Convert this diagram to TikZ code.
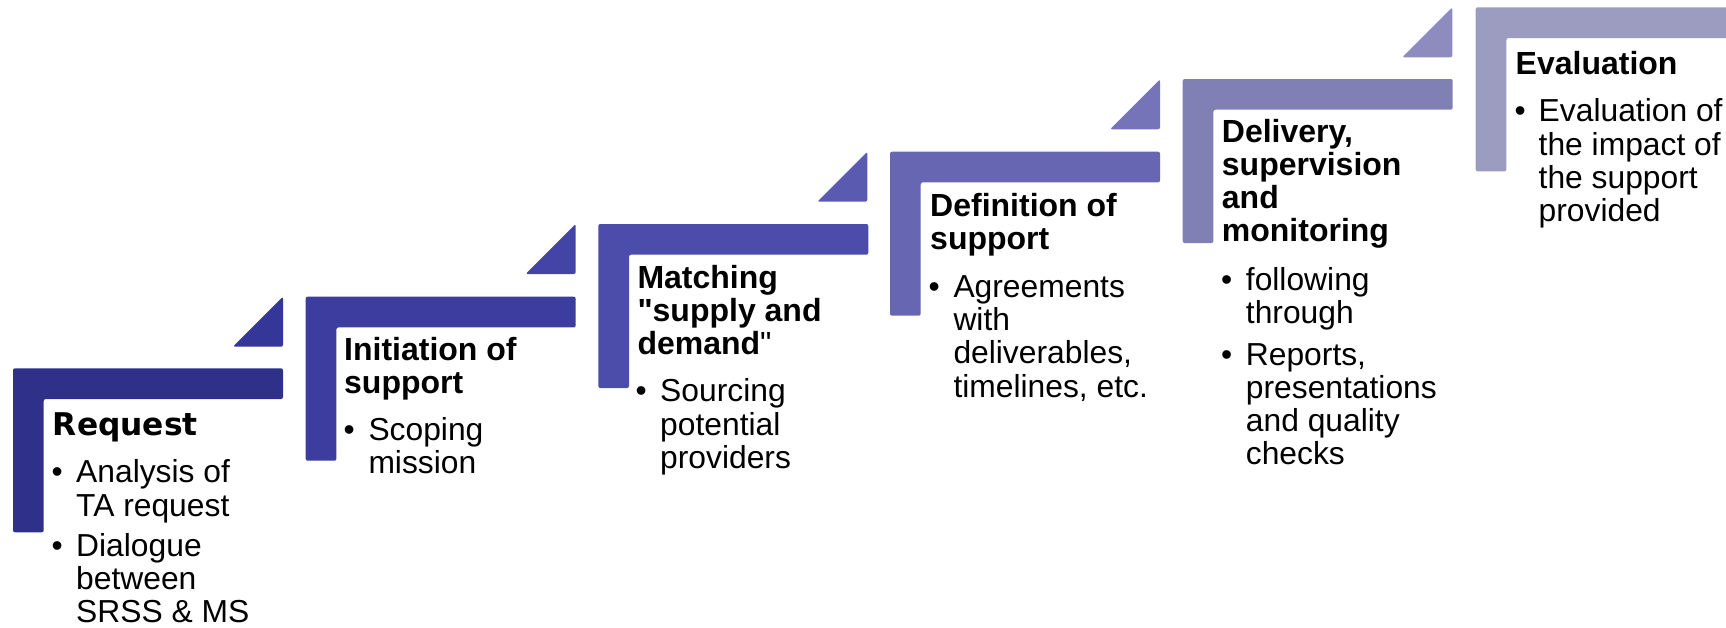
\documentclass[tikz,border=0pt]{standalone}
\usepackage{fontspec}
\newfontfamily\arialfont{Liberation Sans}
\newfontfamily\verdanalike{DejaVu Sans}
\definecolor{L1}{RGB}{46,48,138}
\definecolor{T1}{RGB}{53,55,152}
\definecolor{L2}{RGB}{60,61,158}
\definecolor{T2}{RGB}{68,68,166}
\definecolor{L3}{RGB}{76,77,171}
\definecolor{T3}{RGB}{90,90,176}
\definecolor{L4}{RGB}{103,102,179}
\definecolor{T4}{RGB}{118,116,184}
\definecolor{L5}{RGB}{129,128,181}
\definecolor{T5}{RGB}{142,140,191}
\definecolor{L6}{RGB}{156,156,193}
\newcommand\headfont{\arialfont\fontsize{32}{33}\selectfont\bfseries}
\newcommand\bodyfont{\arialfont\fontsize{31.8}{33.3}\selectfont}
\newcommand\ml[1]{\vtop{\halign{##\hfil\cr#1\crcr}}}
\newcommand\lshape[3]{\fill[#3, rounded corners=2pt] (#1,#2) -- ++(270,0) -- ++(0,30.7) -- ++(-239.3,0) -- ++(0,133.3) -- ++(-30.7,0) -- cycle;}
\newcommand\trishape[3]{\fill[#3, rounded corners=2pt] (#1,#2) -- ++(0,50) -- ++(-50,0) -- cycle;}
\tikzset{
  head/.style={anchor=base west, inner sep=0pt, font=\headfont},
  btext/.style={anchor=base west, inner sep=0pt, font=\bodyfont},
  bdot/.style={anchor=base west, inner sep=0pt, font=\bodyfont},
}
\begin{document}
\begin{tikzpicture}[x=1pt,y=-1pt]
\clip (0,0) rectangle (1726,627);
\fill[white] (0,0) rectangle (1726,627);
% shapes
\lshape{13}{368.3}{L1}
\trishape{283}{296.7}{T1}
\lshape{305.7}{296.7}{L2}
\trishape{575.7}{224}{T2}
\lshape{598.3}{224}{L3}
\trishape{867.3}{151.7}{T3}
\lshape{890}{151.7}{L4}
\trishape{1160}{79.3}{T4}
\lshape{1182.7}{79}{L5}
\trishape{1452.3}{7.3}{T5}
\fill[L6, rounded corners=2pt] (1475.7,7.3) -- (1740,7.3) -- (1740,38) -- (1506.4,38) -- (1506.4,171.3) -- (1475.7,171.3) -- cycle;
% step 1
\node[head, font=\fontsize{31.3}{33}\selectfont\verdanalike\bfseries] (h1) at (52.7,435) {Request};
\node[bdot] (d11) at (51.5,482.7) {•};
\node[btext] (b11) at (76,482.7) {\ml{Analysis of\cr TA request}};
\node[bdot] (d12) at (51.5,556) {•};
\node[btext] (b12) at (76,556) {\ml{Dialogue\cr between\cr SRSS \& MS}};
% step 2
\node[head] (h2) at (344,360) {\ml{Initiation of\cr support}};
\node[bdot] (d21) at (343.5,440) {•};
\node[btext] (b21) at (368.3,440) {\ml{Scoping\cr mission}};
% step 3
\node[head] (h3) at (637.3,288.3) {\ml{Matching\cr "supply and\cr demand\mdseries"}};
\node[bdot] (d31) at (635.5,401.7) {•};
\node[btext] (b31) at (660,401.7) {\ml{Sourcing\cr potential\cr providers}};
% step 4
\node[head] (h4) at (930,216.7) {\ml{Definition of\cr support}};
\node[bdot] (d41) at (928.5,297.3) {•};
\node[btext] (b41) at (953.3,297.3) {\ml{Agreements\cr with\cr deliverables,\cr timelines, etc.}};
% step 5
\node[head] (h5) at (1221.7,142.7) {\ml{Delivery,\cr supervision\cr and\cr monitoring}};
\node[bdot] (d51) at (1221,290) {•};
\node[btext] (b51) at (1245.7,290) {\ml{following\cr through}};
\node[bdot] (d52) at (1221,365) {•};
\node[btext] (b52) at (1245.7,365) {\ml{Reports,\cr presentations\cr and quality\cr checks}};
% step 6
\node[head] (h6) at (1515.5,74) {Evaluation};
\node[bdot] (d61) at (1514.5,121.7) {•};
\node[btext] (b61) at (1538.5,121.7) {\ml{Evaluation of\cr the impact of\cr the support\cr provided}};
\end{tikzpicture}
\end{document}
